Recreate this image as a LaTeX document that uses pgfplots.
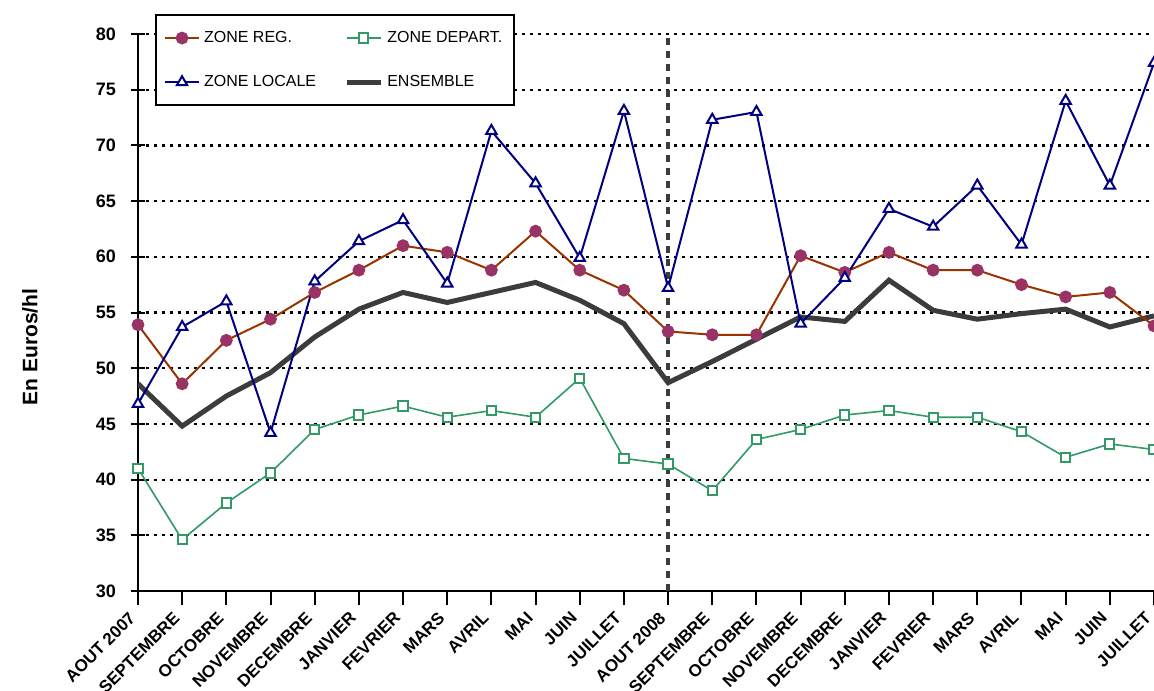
\documentclass[border=0pt]{standalone}
\usepackage{pgfplots}
\pgfplotsset{compat=1.18}
\usepackage{fontspec}
\setmainfont{Liberation Sans}
\definecolor{regline}{HTML}{993300}
\definecolor{regmark}{HTML}{993366}
\definecolor{depcol}{HTML}{339966}
\definecolor{loccol}{HTML}{000080}
\definecolor{enscol}{HTML}{3C3C3C}
\begin{document}
\begin{tikzpicture}
\begin{axis}[
  scale only axis,
  width=508pt, height=278.5pt,
  xmin=0, xmax=23, ymin=30, ymax=80,
  axis x line*=bottom, axis y line*=left,
  axis line style={line width=1pt, black},
  xtick={0,...,23},
  xticklabels={AOUT 2007,SEPTEMBRE,OCTOBRE,NOVEMBRE,DECEMBRE,JANVIER,FEVRIER,MARS,AVRIL,MAI,JUIN,JUILLET,AOUT 2008,SEPTEMBRE,OCTOBRE,NOVEMBRE,DECEMBRE,JANVIER,FEVRIER,MARS,AVRIL,MAI,JUIN,JUILLET},
  ytick={30,35,...,80},
  /pgf/number format/assume math mode=true,
  xticklabel style={xshift=-5pt, yshift=2pt, rotate=45, anchor=north east, font=\fontsize{8.5}{9}\selectfont\bfseries},
  yticklabel style={font=\fontsize{9}{10}\selectfont\bfseries, xshift=-4pt},
  x tick style={line width=1pt, black}, y tick style={line width=1pt, black},
  xtick align=outside, ytick align=center,
  major tick length=7pt,
  ymajorgrids,
  major grid style={black, line width=1.1pt, dash pattern=on 1.4pt off 2.6pt},
  ylabel={En Euros/hl},
  every axis y label/.style={at={(rel axis cs:0,0.438)}, xshift=-54pt, rotate=90, anchor=center, font=\fontsize{10.5}{12}\selectfont\bfseries},
  legend columns=2,
  legend style={at={(rel axis cs:0.0167,1.036)}, anchor=north west, draw=black, line width=1pt, fill=white,
    font=\fontsize{8}{9}\selectfont, inner xsep=4pt, inner ysep=6pt, row sep=11pt,
    /tikz/every even column/.append style={column sep=12pt}},
  legend cell align=left,
]
\draw[enscol, line width=1.6pt, dash pattern=on 3.5pt off 3pt] (axis cs:12,30) -- (axis cs:12,79.6);
\addplot[enscol, line width=2.5pt, forget plot] coordinates {
(0,48.6) (1,44.8) (2,47.5) (3,49.6) (4,52.8) (5,55.3) (6,56.8) (7,55.9) (8,56.8) (9,57.7) (10,56.1) (11,54.0)
(12,48.7) (13,50.6) (14,52.6) (15,54.6) (16,54.2) (17,57.9) (18,55.2) (19,54.4) (20,54.9) (21,55.3) (22,53.7) (23,54.7)};
\addplot[regline, line width=1pt, mark=*, mark size=2.7pt, mark options={fill=regmark, draw=regmark}] coordinates {
(0,53.9) (1,48.6) (2,52.5) (3,54.4) (4,56.8) (5,58.8) (6,61.0) (7,60.4) (8,58.8) (9,62.3) (10,58.8) (11,57.0)
(12,53.3) (13,53.0) (14,53.0) (15,60.1) (16,58.6) (17,60.4) (18,58.8) (19,58.8) (20,57.5) (21,56.4) (22,56.8) (23,53.8)};
\addlegendentry{ZONE REG.}
\addplot[depcol, line width=0.8pt, mark=square*, mark size=2.3pt, mark options={fill=white, draw=depcol, line width=1pt}] coordinates {
(0,41.0) (1,34.6) (2,37.9) (3,40.6) (4,44.5) (5,45.8) (6,46.6) (7,45.6) (8,46.2) (9,45.6) (10,49.1) (11,41.9)
(12,41.4) (13,39.0) (14,43.6) (15,44.5) (16,45.8) (17,46.2) (18,45.6) (19,45.6) (20,44.3) (21,42.0) (22,43.2) (23,42.7)};
\addlegendentry{ZONE DEPART.}
\addplot[loccol, line width=1pt, mark=triangle*, mark size=3pt, mark options={fill=white, draw=loccol, line width=1pt}] coordinates {
(0,46.8) (1,53.7) (2,56.0) (3,44.2) (4,57.8) (5,61.4) (6,63.3) (7,57.6) (8,71.3) (9,66.6) (10,59.9) (11,73.1)
(12,57.2) (13,72.3) (14,73.0) (15,54.0) (16,58.1) (17,64.3) (18,62.7) (19,66.4) (20,61.1) (21,74.0) (22,66.4) (23,77.4)};
\addlegendentry{ZONE LOCALE}
\addlegendimage{enscol, line width=2.5pt}
\addlegendentry{ENSEMBLE}
\end{axis}
\pgfresetboundingbox
\path[use as bounding box] ([xshift=-69pt,yshift=-49.5pt]current axis.south west) rectangle ([yshift=17pt]current axis.north east);
\end{tikzpicture}
\end{document}
